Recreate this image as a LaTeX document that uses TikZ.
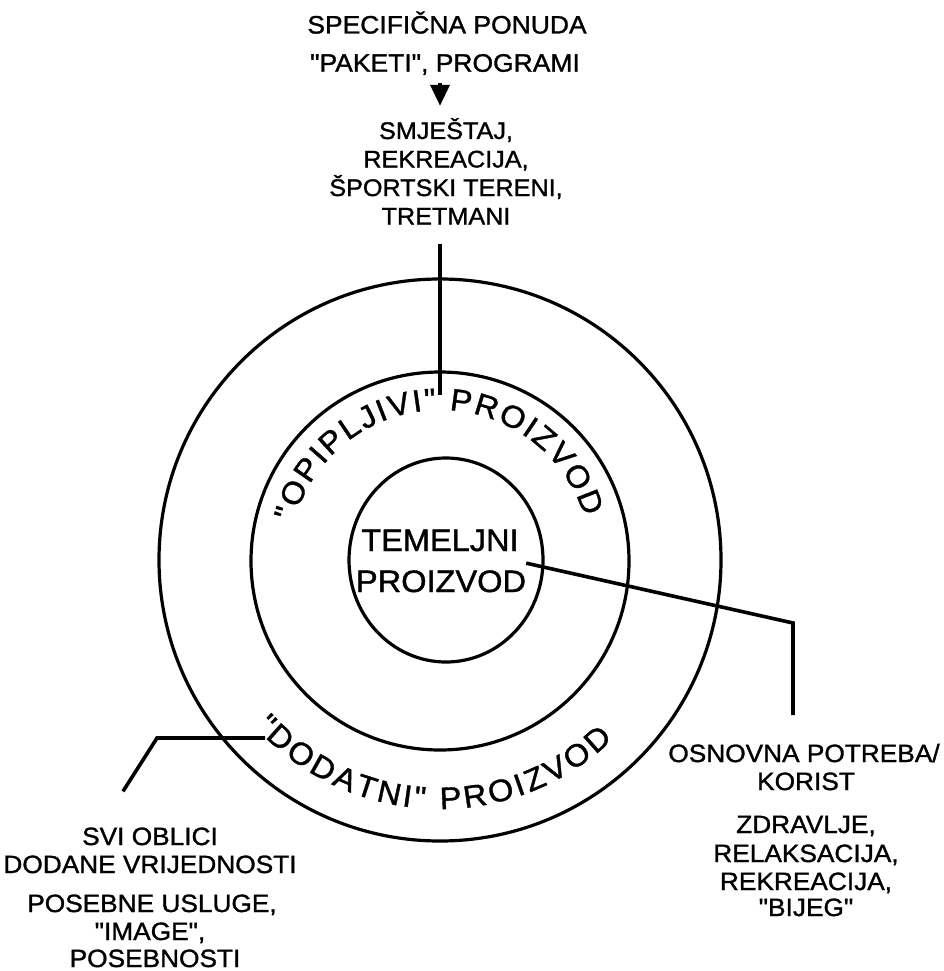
\documentclass[tikz,border=0pt]{standalone}
\usepackage{fontspec}
\setmainfont[FakeStretch=1.05,FakeBold=1.2,Ligatures=TeXOff]{Liberation Sans}
\usetikzlibrary{decorations.text,arrows.meta,shapes.geometric}
\newcommand\curvefont{\fontsize{31}{32}\selectfont}
\begin{document}
\begin{tikzpicture}[x=1pt,y=1pt,
  ring/.style={draw=black,line width=3.2pt,inner sep=0pt},
  conn/.style={draw=black,line width=3.6pt},
  txt/.style={inner sep=0pt,anchor=base,text=black,font=\fontsize{25}{28}\selectfont},
  toptxt/.style={txt,font=\fontsize{25.2}{28}\selectfont},
  midtxt/.style={txt,font=\fontsize{24}{28}\selectfont},
  coretxt/.style={txt,font=\fontsize{31}{34}\selectfont},
  arctxt/.style={decorate,decoration={text along path,text align={fit to path}}}
]
\fill[white] (0,0) rectangle (943,-971);
\useasboundingbox (0,0) rectangle (943,-971);

% rings
\node[ring,circle,minimum size=562pt] (outer) at (440,-560) {};
\node[ring,circle,minimum size=378pt] (middle) at (440,-561) {};
\node[ring,ellipse,minimum width=194pt,minimum height=204pt] (inner) at (446,-560) {};
\coordinate (oc) at (440,-560);
\coordinate (mc) at (440,-561);

% top texts
\node[toptxt] (spec1) at (447,-33.5) {SPECIFIČNA PONUDA};
\node[toptxt] (spec2) at (445,-71.7) {"PAKETI", PROGRAMI};
\node[midtxt] (s1) at (446,-139) {SMJEŠTAJ,};
\node[midtxt] (s2) at (446,-167.5) {REKREACIJA,};
\node[midtxt] (s3) at (446,-196) {ŠPORTSKI TERENI,};
\node[midtxt] (s4) at (446,-224.5) {TRETMANI};

\draw[conn,-{Triangle[length=21pt,width=19pt]}] (mc |- spec2.south) ++(0,-8) -- ([yshift=12pt]mc |- s1.north);
\coordinate (vt) at (440,-395);
\draw[conn] (vt |- s4.south) ++(0,-19) -- (vt);

% core text
\node[coretxt] (tem) at (440,-551) {TEMELJNI};
\node[coretxt] (prz) at (441,-592) {PROIZVOD};

% curved texts
\path[arctxt,decoration={text={|\curvefont|"OPIPLJIVI" PROIZVOD}}]
  ([shift={(165:151)}]mc) arc[start angle=165,end angle=17,radius=151];
\path[arctxt,decoration={text={|\curvefont|"DODATNI" PROIZVOD}}]
  ([shift={(-138:249)}]oc) arc[start angle=-138,end angle=-46,radius=249];

% right block
\node[txt] (osn) at (804,-762) {OSNOVNA POTREBA/};
\node[txt] (kor) at (806,-790) {KORIST};
\node[txt] (zdr) at (806,-833) {ZDRAVLJE,};
\node[txt] (rel) at (806,-862) {RELAKSACIJA,};
\node[txt] (rek) at (806,-890) {REKREACIJA,};
\node[txt] (bij) at (806,-916) {"BIJEG"};

\coordinate (rb) at (793,-623);
\coordinate (re) at (793,-715);
\draw[conn] ([yshift=7pt]prz.north east) -- (rb) -- (re);

% left block
\node[txt] (svi) at (150,-845) {SVI OBLICI};
\node[txt] (dod) at (150,-873) {DODANE VRIJEDNOSTI};
\node[txt] (pos) at (152,-912) {POSEBNE USLUGE,};
\node[txt] (img) at (150,-940) {"IMAGE",};
\node[txt] (psn) at (155,-967) {POSEBNOSTI};

\coordinate (la) at (265,-738);
\coordinate (lb) at (157,-738);
\draw[conn] (la) -- (lb) -- ([shift={(-27pt,36pt)}]svi.north);
\end{tikzpicture}
\end{document}
